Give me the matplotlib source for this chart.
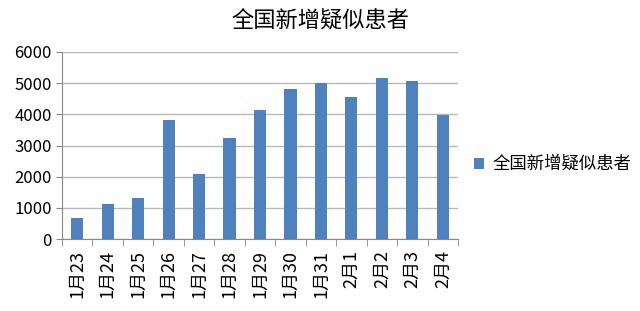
import matplotlib
matplotlib.use("Agg")
import matplotlib.pyplot as plt
import numpy as np

plt.rcParams['font.family'] = ['Noto Sans CJK SC', 'DejaVu Sans']

dates = ['1月23', '1月24', '1月25', '1月26', '1月27', '1月28', '1月29',
         '1月30', '1月31', '2月1', '2月2', '2月3', '2月4']
suspected = [680, 1118, 1309, 3806, 2077, 3248, 4148, 4812, 5019, 4562, 5173, 5072, 3971]
series_name = '全国新增疑似患者'

fig = plt.figure(figsize=(6.4, 3.11), dpi=100)
ax = fig.add_axes([62/640, 1-239/311, (458-62)/640, (239-52)/311])

x = np.arange(len(dates))
ax.bar(x, suspected, width=0.4, color='#4f81bd', label=series_name, zorder=3)

ax.set_xlim(-0.5, len(dates) - 0.5)
ax.set_ylim(0, 6000)
ax.set_yticks(range(0, 6001, 1000))
ax.yaxis.grid(True, color='#b8b8b8', lw=1, zorder=0)

ax.set_xticks(x)
ax.set_xticklabels(dates, rotation=90, fontsize=13)
ax.tick_params(axis='x', length=0, pad=8)
ax.set_xticks(np.arange(-0.5, len(dates), 1), minor=True)
ax.tick_params(axis='x', which='minor', length=5, color='#888888')
ax.tick_params(axis='y', length=4, color='#888888', labelsize=12)

for s in ['top', 'right']:
    ax.spines[s].set_visible(False)
ax.spines['left'].set_color('#888888')
ax.spines['bottom'].set_color('#888888')

fig.text(0.5, 1 - 21/311, series_name, fontsize=16, ha='center', va='center')
ax.legend(loc='center left', bbox_to_anchor=(1.0, 0.4), frameon=False,
          fontsize=12.5, handlelength=0.6, handleheight=0.6, handletextpad=0.5)

fig.savefig('out.png', dpi=100)
